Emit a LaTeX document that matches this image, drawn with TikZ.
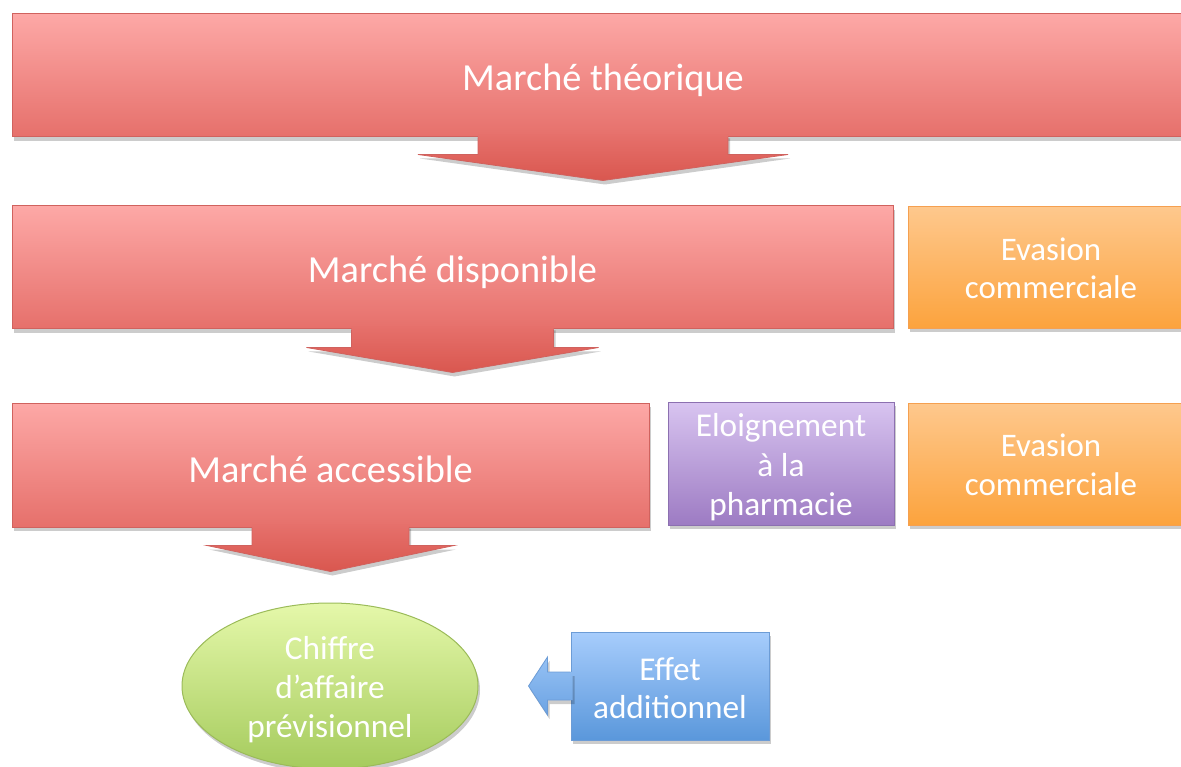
\documentclass[tikz,border=0pt]{standalone}
\usepackage{fontspec}
\setmainfont{Carlito}
\usetikzlibrary{calc,shadows,shapes.geometric}
\definecolor{redT}{HTML}{FDA8A6}
\definecolor{redB}{HTML}{E6706B}
\definecolor{redA}{HTML}{D9574F}
\definecolor{redD}{HTML}{D0625E}
\definecolor{orgT}{HTML}{FEC88D}
\definecolor{orgB}{HTML}{FCA33D}
\definecolor{orgD}{HTML}{F5A050}
\definecolor{purT}{HTML}{D8C4F0}
\definecolor{purB}{HTML}{9D7BC3}
\definecolor{purD}{HTML}{8C70B0}
\definecolor{grnT}{HTML}{E5F8AA}
\definecolor{grnB}{HTML}{A5CB5D}
\definecolor{grnD}{HTML}{9BBB59}
\definecolor{bluT}{HTML}{A7CDFC}
\definecolor{bluB}{HTML}{5A97DB}
\definecolor{bluD}{HTML}{6C9CD6}
\definecolor{bluAT}{HTML}{95C1F4}
\definecolor{bluAB}{HTML}{6CA3E3}
\newcommand\blockdown[5]{%
  \path[arrowfill] ($(#1.south)+(-#2,-3)$) -- ($(#1.south)+(-#2,#4)$) -- ($(#1.south)+(-#3,#4)$)
    -- ($(#1.south)+(0,#4+#5)$) -- ($(#1.south)+(#3,#4)$) -- ($(#1.south)+(#2,#4)$)
    -- ($(#1.south)+(#2,-3)$) -- cycle;
  \draw[arrowline] ($(#1.south)+(-#2,0)$) -- ($(#1.south)+(-#2,#4)$) -- ($(#1.south)+(-#3,#4)$)
    -- ($(#1.south)+(0,#4+#5)$) -- ($(#1.south)+(#3,#4)$) -- ($(#1.south)+(#2,#4)$)
    -- ($(#1.south)+(#2,0)$);%
}
\begin{document}
\begin{tikzpicture}[x=1pt,y=-1pt,
  shad/.style={drop shadow={shadow xshift=2pt,shadow yshift=-4pt,opacity=0.2,fill=black}},
  box/.style={rectangle,line width=1pt,inner sep=0pt,shad},
  txt/.style={text=white,align=center,inner sep=0pt},
  redtxt/.style={txt,yshift=-4.5pt,font=\fontsize{38.3}{45}\selectfont},
  orgtxt/.style={txt,yshift=-1pt,font=\fontsize{32.9}{38.5}\selectfont},
  purtxt/.style={txt,yshift=-4pt,font=\fontsize{33.3}{39.5}\selectfont},
  grntxt/.style={txt,yshift=-4pt,font=\fontsize{33.3}{39}\selectfont},
  blutxt/.style={txt,yshift=-2pt,font=\fontsize{33.3}{38.5}\selectfont},
  redbox/.style={box,draw=redD,top color=redT,bottom color=redB},
  orgbox/.style={box,draw=orgD,top color=orgT,bottom color=orgB},
  purbox/.style={box,draw=purD,top color=purT,bottom color=purB},
  grnell/.style={ellipse,line width=1pt,draw=grnD,top color=grnT,bottom color=grnB,inner sep=0pt,shad},
  blubox/.style={box,draw=bluD,top color=bluT,bottom color=bluB},
  arrowfill/.style={top color=redB,bottom color=redA,shad},
  arrowline/.style={draw=redD,line width=0.8pt,line join=miter},
  bluarrow/.style={top color=bluAT,bottom color=bluAB,shad},
  bluline/.style={draw=bluD,line width=0.8pt}]
\clip (0,0) rectangle (1181,767);
\fill[white] (0,0) rectangle (1181,767);

\node[redbox,minimum width=1182pt,minimum height=123pt,
  label={[redtxt]center:Marché théorique}] (bar1) at (603,75.5) {};
\node[redbox,minimum width=881pt,minimum height=123pt,
  label={[redtxt]center:Marché disponible}] (bar2) at (452.5,267.5) {};
\node[orgbox,minimum width=286pt,minimum height=122pt,
  label={[orgtxt]center:Evasion\\commerciale}] (eva1) at (1051,267.5) {};
\node[redbox,minimum width=637pt,minimum height=124pt,
  label={[redtxt]center:Marché accessible}] (bar3) at (330.5,465) {};
\node[purbox,minimum width=226pt,minimum height=123pt,
  label={[purtxt]center:Eloignement\\à la\\pharmacie}] (eloi) at (781,463.5) {};
\node[orgbox,minimum width=286pt,minimum height=122pt,
  label={[orgtxt]center:Evasion\\commerciale}] (eva2) at (1051,464) {};
\node[grnell,minimum width=296pt,minimum height=166pt,
  label={[grntxt]center:Chiffre\\d’affaire\\prévisionnel}] (ca) at (330,686) {};
\node[blubox,minimum width=198pt,minimum height=108pt,
  label={[blutxt]center:Effet\\additionnel}] (eff) at (670,686) {};

\blockdown{bar1}{125}{185}{17}{26}
\blockdown{bar2}{101}{146}{18}{25}
\blockdown{bar3}{78.5}{123.5}{18}{26}

\path[bluarrow] ($(eff.west)+(2,-14)$) -- ($(eff.west)+(-23,-14)$) -- ($(eff.west)+(-23,-29)$)
  -- ($(eff.west)+(-42,0)$) -- ($(eff.west)+(-23,29)$) -- ($(eff.west)+(-23,14)$)
  -- ($(eff.west)+(2,14)$) -- cycle;
\draw[bluline] ($(eff.west)+(0,-14)$) -- ($(eff.west)+(-23,-14)$) -- ($(eff.west)+(-23,-29)$)
  -- ($(eff.west)+(-42,0)$) -- ($(eff.west)+(-23,29)$) -- ($(eff.west)+(-23,14)$)
  -- ($(eff.west)+(0,14)$);
\end{tikzpicture}
\end{document}
